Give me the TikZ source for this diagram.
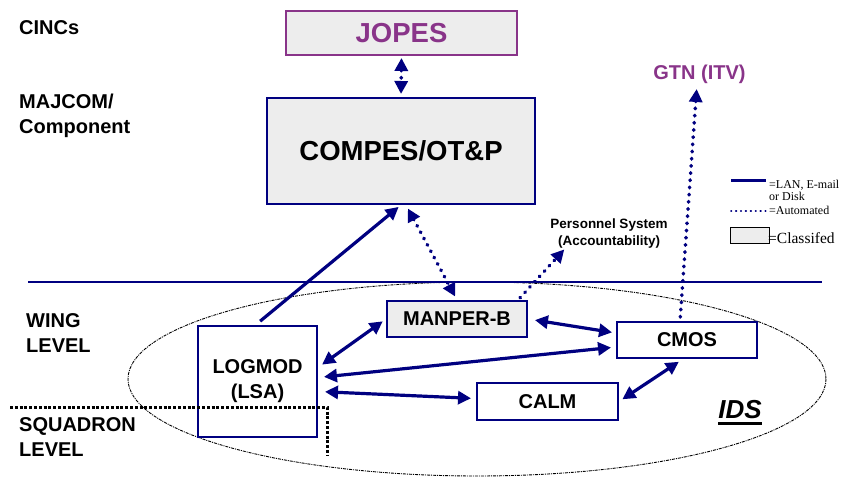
\documentclass[tikz,border=0pt]{standalone}
\usepackage{fontspec}
\setmainfont{Liberation Sans}
\newfontfamily\legendfont{Liberation Serif}
\usepackage{xcolor}
\usepackage{tikz}
\usetikzlibrary{arrows.meta}
\definecolor{navy}{RGB}{0,0,128}
\definecolor{plum}{RGB}{137,52,137}
\begin{document}
\begin{tikzpicture}[x=1pt, y=-1pt, >={Triangle[length=13pt,width=13pt]},
	sysbox/.style={draw=navy, line width=2pt, fill=white, inner sep=0pt, align=center, font=\bfseries\fontsize{20}{25}\selectfont},
	classified/.style={fill=black!7},
	levellabel/.style={anchor=north west, inner sep=0pt, align=left, font=\bfseries\fontsize{20}{25}\selectfont},
	solidlink/.style={navy, line width=3.2pt},
	autolink/.style={navy, line width=3.6pt, line cap=round, dash pattern=on 0.6pt off 6.6pt},
	legendtext/.style={inner sep=0pt, align=left, font=\legendfont\fontsize{12}{11.5}\selectfont}]
	\useasboundingbox (0,0) rectangle (842,481);
	\draw[line width=0.9pt, dash pattern=on 3pt off 1pt on 1pt off 1pt] (477,379) ellipse [x radius=349, y radius=97];
	\draw[navy, line width=2.7pt] (28,282) -- (822,282);
	\node[levellabel] (cincs) at (19,20) {CINCs};
	\node[levellabel] (majcom) at (19,94) {MAJCOM/\\Component};
	\node[levellabel] (wing) at (26,313) {WING\\LEVEL};
	\node[levellabel] (squadron) at (19,417) {SQUADRON\\LEVEL};
	\node[sysbox, classified, draw=plum, text=plum, font=\bfseries\fontsize{27.5}{30}\selectfont, minimum width=231pt, minimum height=44pt] (jopes) at (401.5,33) {JOPES};
	\node[sysbox, classified, font=\bfseries\fontsize{27.5}{30}\selectfont, minimum width=268pt, minimum height=106pt] (compes) at (401,151) {COMPES/OT\&P};
	\node[sysbox, minimum width=119pt, minimum height=111pt] (logmod) at (257.5,381.5) {LOGMOD\\(LSA)};
	\node[sysbox, classified, minimum width=140pt, minimum height=36pt] (manper) at (457,319) {MANPER-B};
	\node[sysbox, minimum width=140pt, minimum height=36pt] (cmos) at (687,340) {CMOS};
	\node[sysbox, minimum width=141pt, minimum height=37pt] (calm) at (547.5,401.5) {CALM};
	\node[inner sep=0pt, text=plum, font=\bfseries\fontsize{20}{24}\selectfont] (gtn) at (699.5,74.5) {GTN (ITV)};
	\node[inner sep=0pt, align=center, font=\bfseries\fontsize{13.5}{17}\selectfont] (pers) at (609,233.5) {Personnel System\\(Accountability)};
	\node[inner sep=0pt, font=\bfseries\itshape\fontsize{26}{30}\selectfont] (ids) at (740,409.5) {IDS};
	\draw[line width=2.6pt] ([yshift=-4.5pt]ids.south west) -- ([yshift=-4.5pt]ids.south east);
	\draw[autolink, <->, shorten <=2pt, shorten >=3pt] (jopes.south) -- (compes.north);
	\draw[solidlink, ->, shorten <=6pt, shorten >=3pt] ([xshift=-2pt]logmod.north) -- (compes.south);
	\draw[autolink, <->, shorten <=4pt, shorten >=4pt] ([xshift=5pt]compes.south) -- (manper.north);
	\draw[autolink, ->, shorten <=3pt] ([xshift=-10pt]manper.north east) -- ([xshift=14pt,yshift=-1pt]pers.south west);
	\draw[autolink, ->, shorten <=4pt, shorten >=5pt] ([xshift=-7pt]cmos.north) -- ([xshift=-2.5pt]gtn.south);
	\draw[solidlink, <->, shorten <=5pt, shorten >=4pt] ([yshift=14pt]logmod.east) -- (manper.west);
	\draw[solidlink, <->, shorten <=6pt, shorten >=5pt] ([yshift=4pt]logmod.east) -- ([yshift=-7pt]cmos.west);
	\draw[solidlink, <->, shorten <=7pt, shorten >=5pt] ([yshift=-10pt]logmod.east) -- ([yshift=3pt]calm.west);
	\draw[solidlink, <->, shorten <=7pt, shorten >=4pt] (manper.east) -- ([yshift=7pt]cmos.west);
	\draw[solidlink, <->, shorten <=4pt, shorten >=5pt] (calm.east) -- ([xshift=-4pt]cmos.south);
	\draw[line width=3pt, dash pattern=on 3pt off 1.8pt] (10,407) -- (327,407) -- (327,455);
	\draw[navy, line width=3pt] (731,180) -- (766,180);
	\node[legendtext, anchor=north west] (lan) at (769,180) {=LAN, E-mail\\ or Disk};
	\draw[navy, line width=2pt, line cap=round, dash pattern=on 0.4pt off 4.5pt] (731,211) -- (766,211);
	\node[legendtext, anchor=base west] (auto) at (769,214.3) {=Automated};
	\draw[line width=1pt, classified] (730,227) rectangle (769,243);
	\node[legendtext, anchor=base west, font=\legendfont\fontsize{15.5}{17}\selectfont] (class) at (768,243.3) {=Classifed};
\end{tikzpicture}
\end{document}
